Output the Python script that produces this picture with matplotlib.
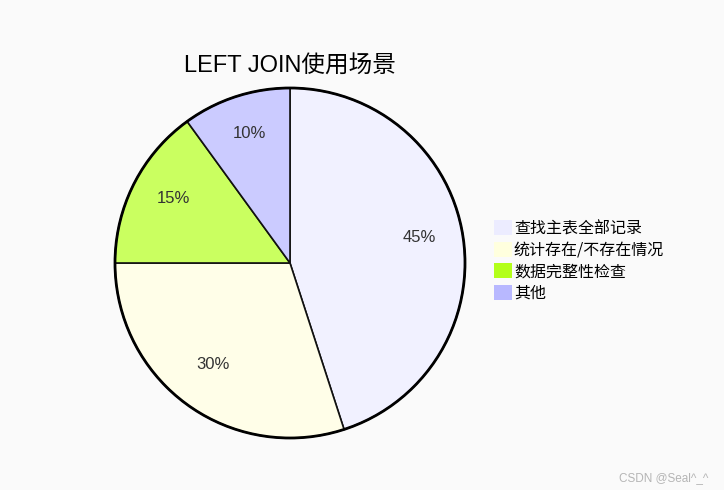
import matplotlib
matplotlib.use("Agg")
import matplotlib.pyplot as plt
from matplotlib.patches import Patch, Circle

plt.rcParams['font.family'] = ['Liberation Sans', 'Noto Sans CJK SC', 'DejaVu Sans']

title = "LEFT JOIN使用场景"
categories = ["查找主表全部记录", "统计存在/不存在情况", "数据完整性检查", "其他"]
values = [45, 30, 15, 10]
slice_colors = ["#f1f1ff", "#fffee8", "#caff60", "#cbcbff"]
legend_colors = ["#ececff", "#ffffde", "#b3ff1a", "#b8b8ff"]
watermark = "CSDN @Seal^_^"

W, H = 724, 490
fig = plt.figure(figsize=(W / 100, H / 100), dpi=100, facecolor="#fafafa")

cx, cy, r = 290, 263, 175
ax = fig.add_axes([(cx - r) / W, (H - cy - r) / H, 2 * r / W, 2 * r / H])
ax.set_facecolor("none")
wedges, texts, autotexts = ax.pie(
    values, colors=slice_colors, startangle=90, counterclock=False,
    autopct="%1.0f%%", pctdistance=0.75, radius=1,
    wedgeprops=dict(edgecolor="#111111", linewidth=1.2),
    textprops=dict(fontsize=12, color="#333333"))
for w in wedges:
    w.set_clip_on(False)
for t in autotexts:
    x, y = t.get_position()
    t.set_position((x, y + 4.5 / r))
outline = Circle((0, 0), 1, fill=False, edgecolor="#000000", linewidth=2, clip_on=False)
ax.add_patch(outline)
ax.set_xlim(-1, 1)
ax.set_ylim(-1, 1)
ax.set_aspect("auto")
ax.axis("off")

fig.text(cx / W, 1 - 67 / H, title, ha="center", va="center", fontsize=17,
         family=['Liberation Sans', 'Noto Sans CJK SC'], color="#000000")

handles = [Patch(facecolor=c, edgecolor="none") for c in legend_colors]
leg = fig.legend(handles, categories, loc="upper left",
                 bbox_to_anchor=(494 / W, 1 - 220 / H), frameon=False,
                 prop=dict(family=['Noto Sans CJK SC', 'DejaVu Sans'], size=11.5),
                 handlelength=1.1, handleheight=1.1, handletextpad=0.15,
                 labelspacing=0.28, borderpad=0, borderaxespad=0)

fig.text(708 / W, 1 - 478 / H, watermark, ha="right", va="center", fontsize=8.5,
         color="#b5b5b5")

fig.savefig("out.png", dpi=100, facecolor=fig.get_facecolor())
